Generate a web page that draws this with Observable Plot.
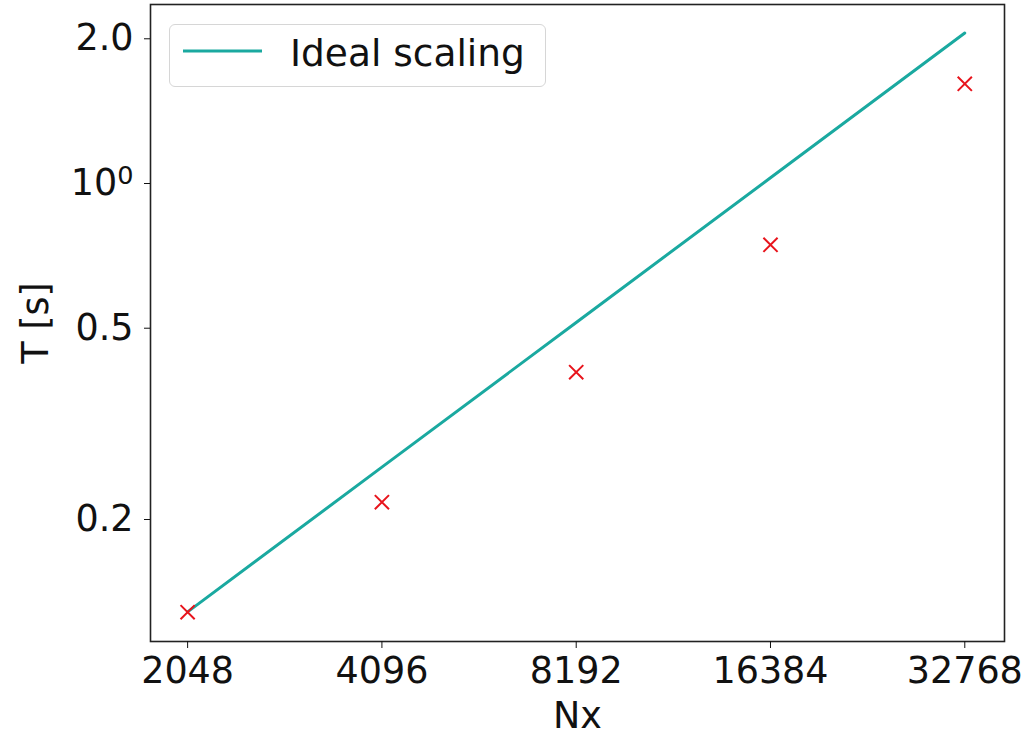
<!DOCTYPE html>
<html>
<head>
<meta charset="utf-8">
<script src="https://cdn.jsdelivr.net/npm/d3@7"></script>
<script src="https://cdn.jsdelivr.net/npm/@observablehq/plot@0.6"></script>
<style>
  html, body { margin: 0; padding: 0; background: #fff; }
  #wrap { position: relative; width: 1026px; height: 735px; font-family: "DejaVu Sans", sans-serif; }
  #legend { position: absolute; left: 169px; top: 24px; width: 377px; height: 63px;
    border: 1.5px solid #d6d6d6; border-radius: 6px; background: #fff; box-sizing: border-box; }
  #legend svg { position: absolute; left: 0; top: 0; }
  #legend span { position: absolute; left: 120px; top: 6px; font-size: 37.5px; color: #111; white-space: nowrap; }
</style>
</head>
<body>
<div id="wrap"></div>
<script>
const nx = [2048, 4096, 8192, 16384, 32768];
const measured = [0.1283, 0.2173, 0.405, 0.7456, 1.612];
const ideal = [0.1285, 0.257, 0.514, 1.028, 2.056];
const xTicks = [2048, 4096, 8192, 16384, 32768];
const yTicks = [0.2, 0.5, 1, 2];
const legendLabel = "Ideal scaling";

const measuredData = nx.map((n, i) => ({n, t: measured[i]}));
const idealData = nx.map((n, i) => ({n, t: ideal[i]}));

const chart = Plot.plot({
  width: 1026,
  height: 735,
  marginLeft: 150,
  marginRight: 22,
  marginTop: 4,
  marginBottom: 94,
  style: {fontFamily: "DejaVu Sans, sans-serif", fontSize: "36px", color: "#111", background: "#fff"},
  x: {type: "log", base: 2, domain: [1794, 37755]},
  y: {type: "log", domain: [0.1115, 2.357]},
  marks: [
    Plot.line(idealData, {x: "n", y: "t", stroke: "#1aa9a0", strokeWidth: 3}),
    Plot.dot(measuredData, {x: "n", y: "t", symbol: "times", r: 6.5, stroke: "#e8141c", strokeWidth: 2}),
    Plot.frame({stroke: "#222", strokeWidth: 1.6}),
    Plot.axisX({ticks: xTicks, tickFormat: d => String(d), tickSize: 7, tickPadding: 9,
      label: "Nx", labelAnchor: "center", labelArrow: "none", labelOffset: 86, fontSize: 36.5}),
    Plot.axisY({ticks: yTicks, tickFormat: d => d === 1 ? "10^0" : d.toFixed(1), tickSize: 6, tickPadding: 11,
      label: "T [s]", labelAnchor: "center", labelArrow: "none", labelOffset: 128, fontSize: 36.5})
  ]
});

// render "10^0" as 10 with a raised superscript 0
chart.querySelectorAll("text").forEach(t => {
  if (t.textContent === "10^0") {
    t.textContent = "10";
    const sup = document.createElementNS("http://www.w3.org/2000/svg", "tspan");
    sup.setAttribute("dy", "-0.45em");
    sup.setAttribute("font-size", "0.7em");
    sup.textContent = "0";
    t.appendChild(sup);
  }
});

const wrap = document.getElementById("wrap");
wrap.appendChild(chart);

const legend = document.createElement("div");
legend.id = "legend";
legend.innerHTML = `<svg width="120" height="60"><line x1="13" y1="26" x2="92" y2="26" stroke="#1aa9a0" stroke-width="3"/></svg><span></span>`;
legend.querySelector("span").textContent = legendLabel;
wrap.appendChild(legend);
</script>
</body>
</html>
